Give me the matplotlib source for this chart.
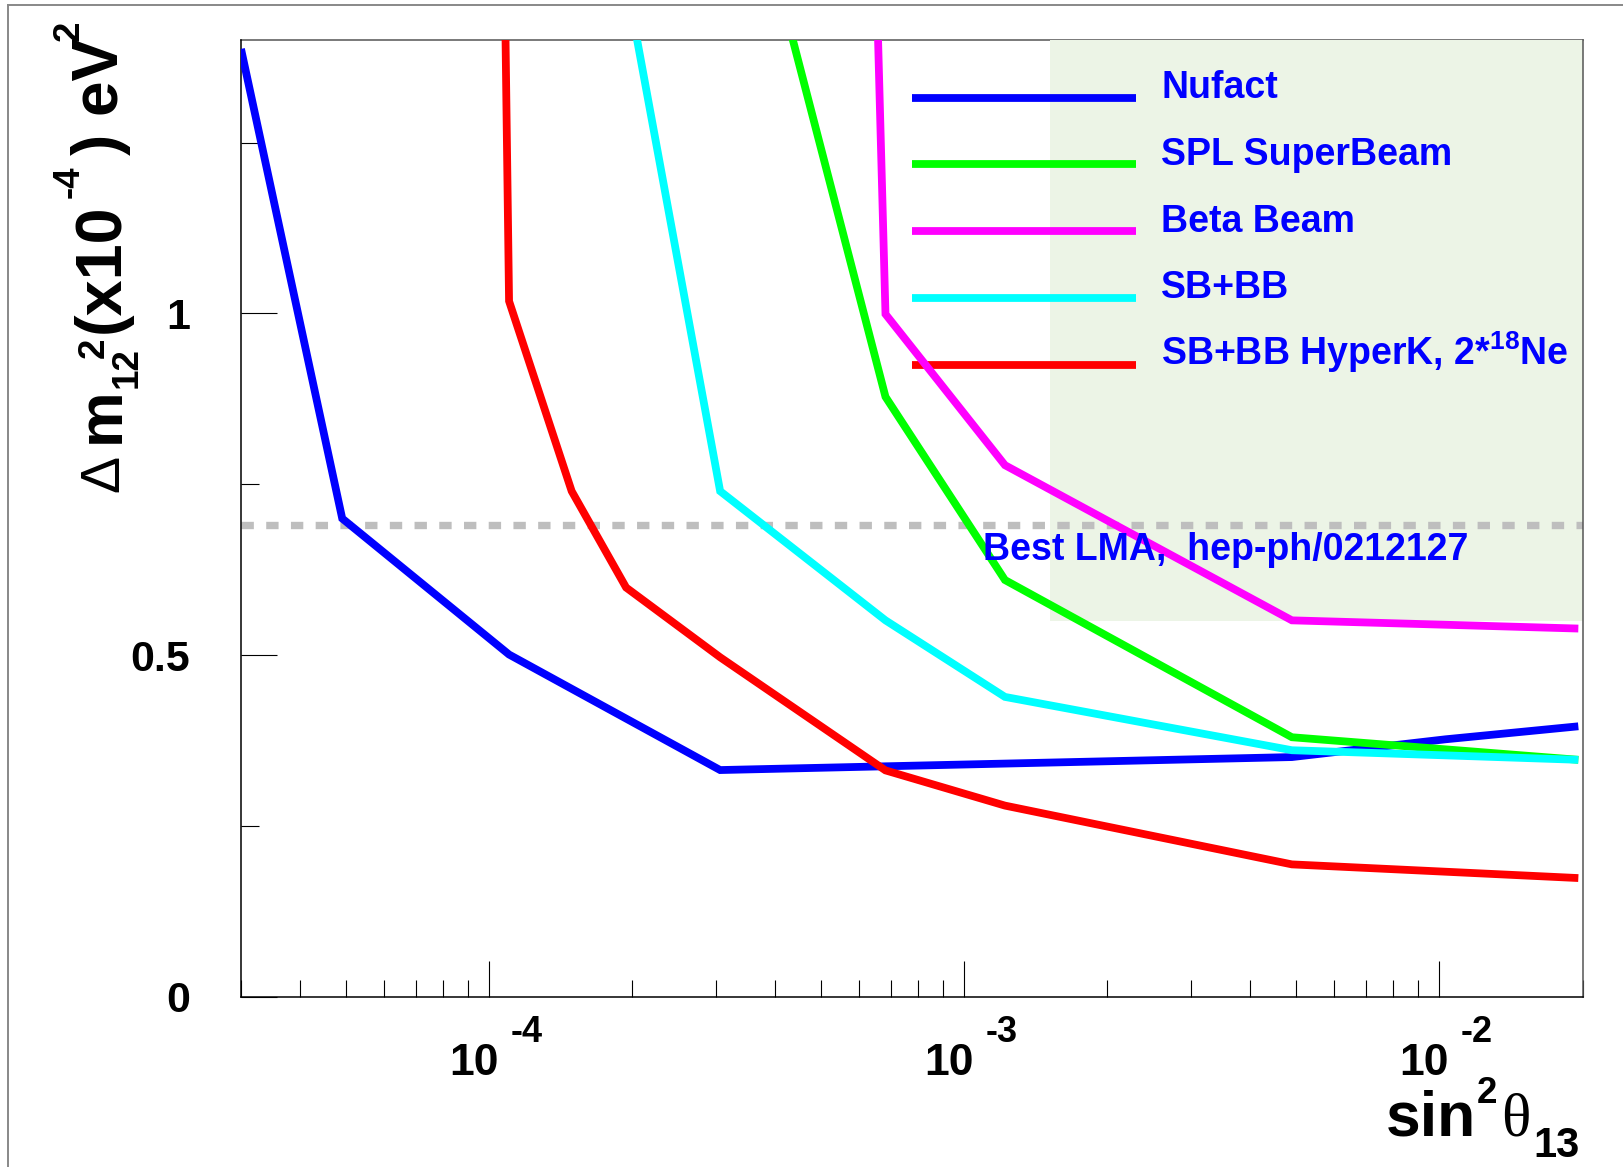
import matplotlib
matplotlib.use("Agg")
import matplotlib.pyplot as plt
from matplotlib.lines import Line2D
from matplotlib.patches import Rectangle
from matplotlib.ticker import FixedLocator, LogLocator, NullFormatter

plt.rcParams["font.family"] = ["Liberation Sans", "DejaVu Sans"]
plt.rcParams["font.weight"] = "bold"
plt.rcParams["mathtext.fontset"] = "custom"
plt.rcParams["mathtext.rm"] = "Liberation Sans"
plt.rcParams["mathtext.bf"] = "Liberation Sans:bold"
plt.rcParams["mathtext.it"] = "Liberation Sans:italic"
plt.rcParams["lines.scale_dashes"] = False

# --- data (x = sin^2 theta13, y = dm12^2 in 1e-4 eV^2) ---
nufact_x = [3.0e-5, 4.9e-5, 1.1e-4, 3.06e-4, 4.89e-3, 1.03e-2, 1.96e-2]
nufact_y = [1.387, 0.700, 0.501, 0.332, 0.351, 0.377, 0.396]

spl_x = [4.17e-4, 6.82e-4, 1.217e-3, 4.89e-3, 1.96e-2]
spl_y = [1.45, 0.878, 0.610, 0.380, 0.347]

beta_x = [6.55e-4, 6.82e-4, 1.217e-3, 4.89e-3, 1.96e-2]
beta_y = [1.45, 0.999, 0.778, 0.551, 0.539]

sbbb_x = [1.985e-4, 3.06e-4, 6.82e-4, 1.217e-3, 4.89e-3, 1.96e-2]
sbbb_y = [1.45, 0.740, 0.551, 0.439, 0.361, 0.347]

hyperk_x = [1.079e-4, 1.1e-4, 1.49e-4, 1.94e-4, 3.06e-4, 6.82e-4, 1.217e-3, 4.89e-3, 1.96e-2]
hyperk_y = [1.45, 1.018, 0.740, 0.599, 0.497, 0.3315, 0.280, 0.194, 0.174]

lma_best = 0.69

labels = ["Nufact", "SPL SuperBeam", "Beta Beam", "SB+BB",
          r"SB+BB HyperK, 2*$^{\mathbf{18}}$Ne"]
colors = ["#0000ff", "#00ff00", "#ff00ff", "#00ffff", "#ff0000"]

W, H = 1623, 1167
def fx(px):
    return px / W
def fy(py):
    return 1 - py / H

fig = plt.figure(figsize=(W / 100, H / 100), dpi=100)
ax = fig.add_axes([fx(241), fy(997), 1341.5 / W, 957 / H])

ax.set_xscale("log")
ax.set_xlim(3e-5, 2e-2)
ax.set_ylim(0, 1.4)

# legend box (shaded), behind everything
ax.add_patch(Rectangle((1.515e-3, 0.55), 2e-2 - 1.515e-3, 0.85,
                       facecolor="#ecf4e6", edgecolor="none", zorder=1.5,
                       clip_on=False))
ax.spines["top"].set_zorder(1)
for s in ["top", "right"]:
    ax.spines[s].set_color("#555555")
for s in ["left", "bottom"]:
    ax.spines[s].set_color("black")
for s in ax.spines.values():
    s.set_linewidth(1.1)

LW = 5.6

# best LMA line
ax.axhline(lma_best, color="#bebebe", lw=5.3, ls=(0, (8.9, 8.9)), zorder=2)
ax.text(0.5528, 0.4566, "Best LMA,  hep-ph/0212127", transform=ax.transAxes,
        fontsize=27, fontweight="bold", color="#0000ff", va="baseline",
        ha="left", zorder=4)

# legend entries
leg_y = [0.9397, 0.8701, 0.8001, 0.7307, 0.6607]
for lab, col, yy in zip(labels, colors, leg_y):
    ax.plot([0.5002, 0.6672], [yy, yy], transform=ax.transAxes, color=col,
            lw=LW, solid_capstyle="butt", zorder=2.2)
    ax.text(0.6858, yy - 0.0006, lab, transform=ax.transAxes, fontsize=27,
            fontweight="bold", color="#0000ff", va="baseline", ha="left",
            zorder=4)

# curves
series = [(nufact_x, nufact_y, colors[0], 3.0),
          (hyperk_x, hyperk_y, colors[4], 3.1),
          (spl_x, spl_y, colors[1], 3.2),
          (beta_x, beta_y, colors[2], 3.3),
          (sbbb_x, sbbb_y, colors[3], 3.4)]
for xs, ys, col, z in series:
    ax.plot(xs, ys, color=col, lw=LW, solid_capstyle="butt",
            solid_joinstyle="miter", zorder=z)

# ticks
ax.xaxis.set_major_locator(FixedLocator([1e-4, 1e-3, 1e-2]))
ax.xaxis.set_minor_locator(LogLocator(base=10, subs=range(2, 10), numticks=20))
ax.xaxis.set_major_formatter(NullFormatter())
ax.xaxis.set_minor_formatter(NullFormatter())
ax.set_yticks([0, 0.5, 1])
ax.set_yticks([0.25, 0.75, 1.25], minor=True)
ax.set_yticklabels(["0", "0.5", "1"])
ax.tick_params(which="major", direction="in", length=25.6, width=0.8,
               color="black", top=False, right=False)
ax.tick_params(which="minor", direction="in", length=12.6, width=0.8,
               color="black", top=False, right=False)
ax.tick_params(axis="y", labelsize=31, pad=36.5)
for t in ax.get_yticklabels():
    t.set_fontweight("bold")

# x tick labels in ROOT style: 10 and raised exponent
for val, ex in [(1e-4, "-4"), (1e-3, "-3"), (1e-2, "-2")]:
    ax.annotate("10", xy=(val, 0), xycoords=("data", "axes fraction"),
                xytext=(-15, -78), textcoords="offset pixels", ha="center",
                va="baseline", fontsize=32, fontweight="bold")
    ax.annotate(ex, xy=(val, 0), xycoords=("data", "axes fraction"),
                xytext=(21, -44.7), textcoords="offset pixels", ha="left",
                va="baseline", fontsize=26, fontweight="bold")

# y axis title, built piece by piece (ROOT-like sub/superscripts)
# (text, baseline x px, start y px, size pt, weight)
ytitle = [("\u0394", 118.3, 491.7, 40, "normal"),
          ("m", 118.3, 443.3, 45, "bold"),
          ("12", 136.7, 388.0, 26.5, "bold"),
          ("2", 103.3, 358.3, 26.5, "bold"),
          ("(x10", 118.3, 333.0, 46.5, "bold"),
          ("-4", 78.3, 198.0, 26.5, "bold"),
          (") eV", 118.3, 155.0, 46, "bold"),
          ("2", 78.3, 41.0, 26.5, "bold")]
for txt, bx, sy, fs, fw in ytitle:
    fig.text(fx(bx), fy(sy), txt, rotation=90, rotation_mode="anchor",
             ha="left", va="baseline", fontsize=fs, fontweight=fw)

# x axis title
fig.text(fx(1386), fy(1136), "sin", fontsize=45, fontweight="bold",
         ha="left", va="baseline")
fig.text(fx(1477), fy(1103), "2", fontsize=26.5, fontweight="bold",
         ha="left", va="baseline")
fig.text(fx(1501), fy(1136), "\u03b8", fontsize=44, fontweight="normal",
         family=["Liberation Serif", "DejaVu Serif"], ha="left", va="baseline")
fig.text(fx(1533), fy(1156.7), "13", fontsize=30, fontweight="bold",
         ha="left", va="baseline")

# canvas border (left and top only visible)
fig.add_artist(Line2D([fx(7.5), fx(7.5)], [0, fy(5)], transform=fig.transFigure,
                      color="#888888", lw=1.4))
fig.add_artist(Line2D([fx(7.5), 1], [fy(5), fy(5)], transform=fig.transFigure,
                      color="#888888", lw=1.4))

fig.savefig("out.png", dpi=100)
